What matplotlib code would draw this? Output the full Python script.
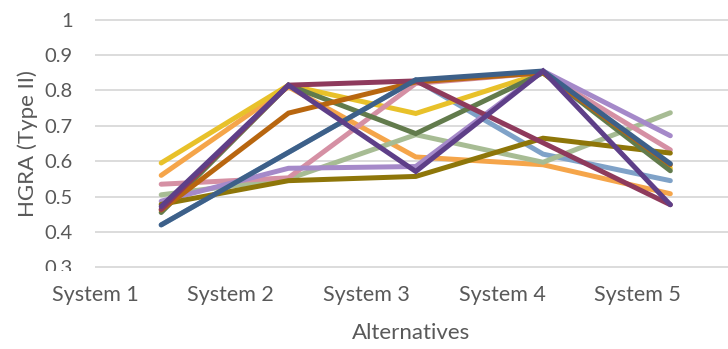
import numpy as np
import matplotlib.pyplot as plt
from matplotlib.patches import Rectangle

systems = ['System 1', 'System 2', 'System 3', 'System 4', 'System 5']

# HGRA (Type II) scores per alternative, one list per series
light_blue = [0.42, 0.625, 0.83, 0.62, 0.545]
orange = [0.56, 0.81, 0.612, 0.59, 0.508]
gold = [0.595, 0.815, 0.735, 0.85, 0.58]
sage = [0.505, 0.55, 0.675, 0.597, 0.737]
pink = [0.535, 0.553, 0.82, 0.85, 0.632]
light_purple = [0.487, 0.58, 0.585, 0.855, 0.672]
olive = [0.478, 0.545, 0.557, 0.665, 0.623]
dark_green = [0.455, 0.815, 0.678, 0.85, 0.573]
dark_orange = [0.462, 0.736, 0.824, 0.85, 0.59]
maroon = [0.464, 0.815, 0.827, 0.652, 0.477]
dark_blue = [0.42, 0.625, 0.83, 0.855, 0.593]
dark_purple = [0.472, 0.815, 0.571, 0.855, 0.477]

series = [
    (light_blue, '#7FA2C8'),
    (orange, '#F5A54A'),
    (gold, '#E8C12A'),
    (sage, '#A7BC94'),
    (pink, '#D590A4'),
    (light_purple, '#A589C9'),
    (olive, '#8E7609'),
    (dark_green, '#627B4C'),
    (dark_orange, '#B8660F'),
    (maroon, '#8E3A5C'),
    (dark_blue, '#3D6089'),
    (dark_purple, '#5E3F88'),
]

plt.rcParams['font.family'] = ['Lato', 'DejaVu Sans']
text_color = '#595959'

fig = plt.figure(figsize=(7.28, 3.49), dpi=100)
ax = fig.add_axes([0.1305, 0.232, 0.8695, 0.7135])

x = np.arange(len(systems))
for values, color in series:
    ax.plot(x, values, color=color, lw=3.6, solid_capstyle='round',
            solid_joinstyle='miter')

ax.set_xlim(-0.492, 4.453)
ax.set_ylim(0.298, 1.002)
ax.set_yticks(np.arange(0.3, 1.01, 0.1))
ax.set_yticklabels(['0.3', '0.4', '0.5', '0.6', '0.7', '0.8', '0.9', '1'])
ax.yaxis.grid(True, color='#D9D9D9', lw=1.3)
ax.set_axisbelow(True)

# category labels sit a little left of the points
ax.set_xticks(np.arange(len(systems)) * 1.066 - 0.52)
ax.set_xticklabels(systems)

for s in ax.spines.values():
    s.set_visible(False)
ax.tick_params(axis='both', length=0, colors=text_color)
ax.tick_params(axis='y', pad=16, labelsize=14.5)
ax.tick_params(axis='x', pad=12, labelsize=15.5)

ax.set_ylabel('HGRA (Type II)', fontsize=16, color=text_color, labelpad=5)
ax.set_xlabel('Alternatives', fontsize=16, color=text_color, labelpad=13)

# the lowest y label is cut off at its bottom
fig.add_artist(Rectangle((38 / 728, 1 - 282 / 349), 42 / 728, 11 / 349,
                         transform=fig.transFigure, facecolor='white',
                         edgecolor='none', zorder=10))

fig.savefig('out.png', dpi=100)
